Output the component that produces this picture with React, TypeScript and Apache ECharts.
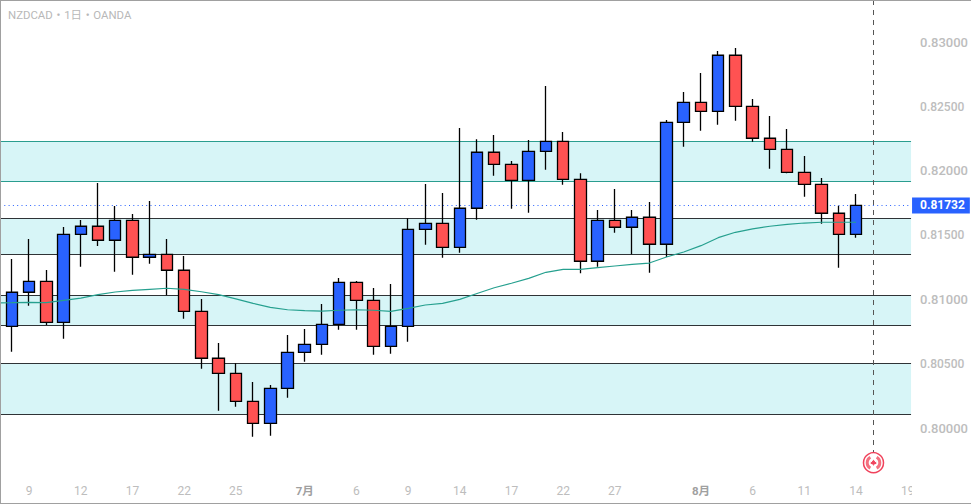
import React, { useEffect, useRef } from "react";
import * as echarts from "echarts";

const titleText = "NZDCAD・1日・OANDA";
const lastPrice = 0.81732;
const eventIndex = 50;
const priceTicks = [0.8, 0.805, 0.81, 0.815, 0.82, 0.825, 0.83];
const dateTicks: Record<number, string> = {
  1: "9", 4: "12", 7: "17", 10: "22", 13: "25", 17: "7月", 20: "6", 23: "9", 26: "14",
  29: "17", 32: "22", 35: "27", 40: "8月", 43: "6", 46: "11", 49: "14", 52: "19",
};
// open, close, low, high
const candles: number[][] = [
  [0.80792, 0.81057, 0.80595, 0.81315],
  [0.81057, 0.81142, 0.80953, 0.81471],
  [0.81142, 0.80823, 0.80802, 0.8123],
  [0.80823, 0.81507, 0.80696, 0.81564],
  [0.81507, 0.8157, 0.81256, 0.81619],
  [0.8157, 0.81461, 0.81416, 0.81906],
  [0.81461, 0.81616, 0.81217, 0.81727],
  [0.81616, 0.81329, 0.81193, 0.81665],
  [0.81329, 0.81352, 0.81279, 0.81766],
  [0.81352, 0.81228, 0.81033, 0.81471],
  [0.81228, 0.80909, 0.80851, 0.81339],
  [0.80909, 0.80544, 0.80463, 0.81005],
  [0.80544, 0.80427, 0.80136, 0.80663],
  [0.80427, 0.80209, 0.80168, 0.80505],
  [0.80209, 0.80038, 0.79934, 0.80359],
  [0.80038, 0.8031, 0.79942, 0.80336],
  [0.8031, 0.8059, 0.80237, 0.80725],
  [0.8059, 0.80652, 0.80517, 0.80771],
  [0.80652, 0.80808, 0.80572, 0.80966],
  [0.80808, 0.81134, 0.80766, 0.81168],
  [0.81134, 0.80994, 0.80766, 0.81144],
  [0.80994, 0.80637, 0.80572, 0.8109],
  [0.80637, 0.80792, 0.80579, 0.81121],
  [0.80792, 0.81546, 0.80673, 0.81632],
  [0.81546, 0.81593, 0.81427, 0.81898],
  [0.81593, 0.81406, 0.81326, 0.81828],
  [0.81406, 0.8171, 0.81364, 0.82334],
  [0.8171, 0.82145, 0.81621, 0.82246],
  [0.82145, 0.82051, 0.81963, 0.82279],
  [0.82051, 0.81927, 0.81706, 0.82077],
  [0.81927, 0.82152, 0.81675, 0.8224],
  [0.82152, 0.8223, 0.82009, 0.8266],
  [0.8223, 0.81935, 0.81893, 0.82302],
  [0.81935, 0.81298, 0.81204, 0.81981],
  [0.81298, 0.81616, 0.81256, 0.81696],
  [0.81616, 0.81562, 0.8152, 0.81859],
  [0.81562, 0.8164, 0.81352, 0.81696],
  [0.8164, 0.8143, 0.81209, 0.81758],
  [0.8143, 0.82378, 0.81331, 0.82396],
  [0.82378, 0.82533, 0.82188, 0.82613],
  [0.82533, 0.82463, 0.82313, 0.82761],
  [0.82463, 0.82899, 0.82359, 0.82932],
  [0.82899, 0.82502, 0.8239, 0.82955],
  [0.82502, 0.82254, 0.82227, 0.82559],
  [0.82254, 0.82168, 0.82017, 0.82427],
  [0.82168, 0.81989, 0.81981, 0.82326],
  [0.81989, 0.81896, 0.818, 0.82116],
  [0.81896, 0.81671, 0.8159, 0.81945],
  [0.81671, 0.81507, 0.81248, 0.8173],
  [0.81507, 0.81732, 0.81481, 0.81821],
];
const movingAverage = [
  0.80976, 0.80979, 0.80976, 0.80994, 0.81012, 0.81038, 0.81059, 0.81072, 0.8108, 0.81088,
  0.8108, 0.81061, 0.81038, 0.81005, 0.80971, 0.8094, 0.80921, 0.80914, 0.80911, 0.80917,
  0.80921, 0.80917, 0.80909, 0.80932, 0.80958, 0.80971, 0.81002, 0.81047, 0.81092, 0.81127,
  0.81165, 0.81212, 0.81235, 0.81235, 0.81248, 0.81261, 0.81274, 0.81284, 0.81331, 0.8137,
  0.81419, 0.81481, 0.81523, 0.81549, 0.8157, 0.81585, 0.81595, 0.81601, 0.81601, 0.81601,
];
const maStartValue = 0.80975;
const zones = [
  { top: 0.8223, bottom: 0.81919, line: "#2a9d8f" },
  { top: 0.81632, bottom: 0.81352, line: "#2f3336" },
  { top: 0.81033, bottom: 0.808, line: "#2f3336" },
  { top: 0.80505, bottom: 0.80108, line: "#2f3336" },
];

const fontFamily = 'Roboto, "Noto Sans CJK JP", sans-serif';
const labelGray = "#bdbdbd";
const yMax = 0.833284;
const yMin = 0.796133;
const xMin = -0.69;
const xMax = 52.195;
const eventBottom = 0.79815;

echarts.graphic.registerShape(
  "leaf",
  echarts.graphic.extendPath(
    "M0 -3.2 L0.8 -1.6 L1.6 -2 L1.3 -0.4 L3 -0.9 L2.5 0.4 L3.2 0.8 L0.3 2 L0.3 3 L-0.3 3 L-0.3 2 L-3.2 0.8 L-2.5 0.4 L-3 -0.9 L-1.3 -0.4 L-1.6 -2 L-0.8 -1.6 Z",
    {}
  )
);

export default function App() {
  const ref = useRef<HTMLDivElement>(null);
  useEffect(() => {
    const chart = echarts.init(ref.current!, undefined, { renderer: "svg" });
    const zoneAreas = zones.map((z) => [
      { yAxis: z.top, itemStyle: { color: "#d7f5f7" } },
      { yAxis: z.bottom },
    ]);
    const zoneLines = zones.flatMap((z) => [
      { yAxis: z.top, lineStyle: { color: z.line, width: 1, type: "solid" }, label: { show: false } },
      { yAxis: z.bottom, lineStyle: { color: z.line, width: 1, type: "solid" }, label: { show: false } },
    ]);
    chart.setOption({
      animation: false,
      backgroundColor: "#ffffff",
      title: {
        text: titleText,
        left: 3,
        top: 4,
        textStyle: { fontSize: 11.4, fontWeight: "normal", color: "#b8b8b8", fontFamily },
      },
      grid: { left: 0, top: 0, width: 912, height: 478 },
      xAxis: {
        type: "value",
        min: xMin,
        max: xMax,
        splitLine: { show: false },
        axisLine: { show: false },
        axisTick: { show: false },
        axisLabel: {
          customValues: Object.keys(dateTicks).map(Number),
          formatter: (v: number) => {
            const s = dateTicks[Math.round(v)] ?? "";
            return s.includes("月") ? `{m|${s}}` : s;
          },
          color: labelGray,
          fontSize: 12,
          fontFamily,
          margin: 7,
          hideOverlap: false,
          rich: { m: { color: "#a0a0a0", fontWeight: "bold", fontSize: 11.5, fontFamily } },
        },
      },
      yAxis: {
        type: "value",
        position: "right",
        min: yMin,
        max: yMax,
        scale: true,
        splitLine: { show: false },
        axisLine: { show: false },
        axisTick: { show: false },
        axisLabel: {
          customValues: priceTicks,
          formatter: (v: number) => {
            const s = v.toFixed(5);
            return s[4] === "5" ? `{n|${s}}` : s;
          },
          color: labelGray,
          fontSize: 13,
          fontWeight: 500,
          fontFamily,
          margin: 9,
          rich: { n: { color: labelGray, fontSize: 12, fontWeight: 500, fontFamily } },
        },
      },
      series: [
        {
          type: "candlestick",
          data: candles.map((c, i) => [i, ...c]),
          barWidth: 12,
          z: 3,
          clip: true,
          itemStyle: {
            color: "#2962ff",
            color0: "#ff5252",
            borderColor: "#000000",
            borderColor0: "#000000",
            borderWidth: 1.3,
          },
          markArea: { silent: true, z: 1, data: zoneAreas },
          markLine: {
            silent: true,
            symbol: "none",
            z: 2,
            precision: 6,
            animation: false,
            data: [
              ...zoneLines,
              {
                yAxis: lastPrice,
                lineStyle: { color: "#2962ff", width: 1, type: [1, 3.3] },
                label: {
                  show: true,
                  position: "end",
                  distance: 1,
                  formatter: lastPrice.toFixed(5),
                  color: "#ffffff",
                  backgroundColor: "#2962ff",
                  fontSize: 12,
                  fontWeight: "bold",
                  fontFamily,
                  padding: [2, 5, 2, 8],
                },
              },
              [
                {
                  coord: [eventIndex, yMax],
                  lineStyle: { color: "#555555", width: 1, type: [5, 5] },
                  label: { show: false },
                },
                { coord: [eventIndex, eventBottom] },
              ],
            ],
          },
        },
        {
          type: "line",
          data: [[xMin, maStartValue], ...movingAverage.map((v, i) => [i, v])],
          showSymbol: false,
          z: 4,
          lineStyle: { color: "#26a08f", width: 1.2 },
        },
      ],
      graphic: [
        { type: "rect", z: 100, shape: { x: 912, y: 478, width: 59, height: 25 }, style: { fill: "#ffffff" } },
        {
          type: "group",
          x: 873.5,
          y: 462.7,
          z: 101,
          children: [
            { type: "circle", shape: { r: 10 }, style: { fill: "#ffffff", stroke: "#f0435c", lineWidth: 1.5 } },
            { type: "sector", shape: { r: 7.8, r0: 4.8, startAngle: (2 * Math.PI) / 3, endAngle: (4 * Math.PI) / 3 }, style: { fill: "#f4707f" } },
            { type: "sector", shape: { r: 7.8, r0: 4.8, startAngle: -Math.PI / 3, endAngle: Math.PI / 3 }, style: { fill: "#f4707f" } },
            { type: "leaf", style: { fill: "#f0435c" } },
          ],
        },
      ],
    });
    return () => chart.dispose();
  }, []);
  return (
    <div style={{ position: "absolute", left: 0, top: 0, width: 971, height: 504 }}>
      <div ref={ref} style={{ width: 971, height: 504 }} />
      <div
        style={{
          position: "absolute",
          left: 0,
          top: 0,
          width: 971,
          height: 504,
          boxSizing: "border-box",
          borderTop: "1px solid #a0a0a0",
          borderLeft: "1px solid #a0a0a0",
          borderBottom: "1px solid #a0a0a0",
          pointerEvents: "none",
        }}
      />
    </div>
  );
}
